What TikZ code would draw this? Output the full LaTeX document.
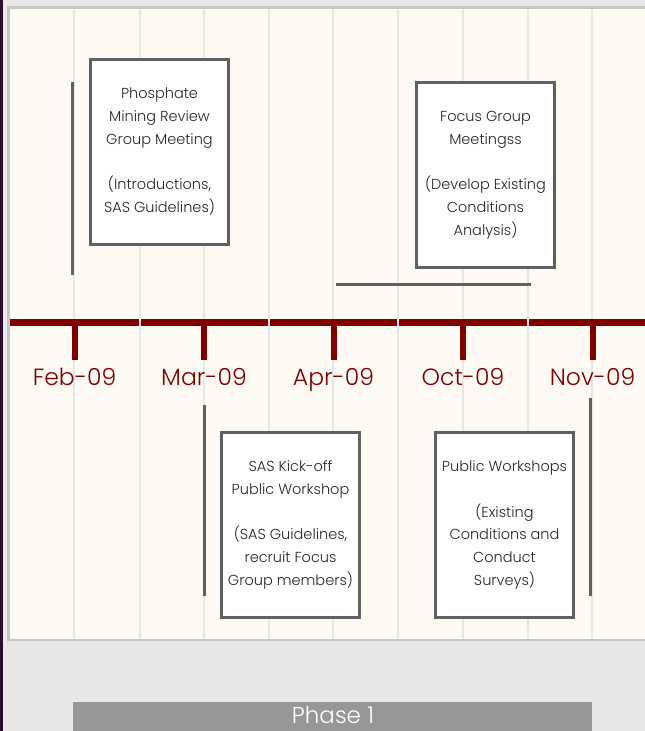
\documentclass[tikz,border=0pt]{standalone}
\usepackage{fontspec}
\setmainfont{Poppins}[UprightFont=* Light]
\definecolor{bggray}{HTML}{E8E8E8}
\definecolor{leftdark}{HTML}{2E0A2E}
\definecolor{cream}{HTML}{FDFAF3}
\definecolor{panelborder}{HTML}{C6C6C6}
\definecolor{gridc}{HTML}{E6E6E6}
\definecolor{timered}{HTML}{800000}
\definecolor{bargray}{HTML}{606060}
\definecolor{phasegray}{HTML}{979797}
\definecolor{txt}{HTML}{262626}
\tikzset{
  evbox/.style={draw=bargray, line width=3pt, fill=white, minimum width=138pt, minimum height=185pt,
    inner sep=0pt, align=center, text=txt, font=\fontsize{14.5}{22.7}\selectfont},
  monthlbl/.style={text=timered, font=\fontsize{23.5}{26}\selectfont, inner sep=0pt, anchor=base},
  gridline/.style={draw=gridc, line width=2pt},
  tickline/.style={draw=timered, line width=6pt},
  barline/.style={draw=bargray, line width=3pt}
}
\begin{document}
\begin{tikzpicture}[x=1pt,y=-1pt]
\useasboundingbox (0,0) rectangle (645,731);
\clip (0,0) rectangle (645,731);
\fill[bggray] (0,0) rectangle (645,731);
\fill[leftdark] (0,0) rectangle (3,731);
\draw[panelborder, line width=2.5pt, fill=cream] (8.25,7.25) rectangle (660,639.75);
% timeline
\coordinate (tlA) at (9.5,322.5);
\coordinate (tlB) at (645,322.5);
\draw[timered, line width=7pt] (tlA) -- (tlB);
% grid
\foreach \x in {74,140,204,269,333,398,463,528,592}
  \draw[gridline] (\x,8.5) -- (\x,638.5);
% ticks and labels
\foreach \x/\lab/\nm in {74.5/Feb-09/m1,204/Mar-09/m2,333.5/Apr-09/m3,463/Oct-09/m4,592.5/Nov-09/m5}{
  \coordinate (\nm t) at (\x,319);
  \coordinate (\nm b) at (\x,360);
  \draw[tickline] (\nm t) -- (\nm b);
  \node[monthlbl] (\nm) at (\x,385) {\lab};
}
% bars
\coordinate (b1a) at (72,82);  \coordinate (b1b) at (72,275);
\coordinate (b2a) at (336,284); \coordinate (b2b) at (531,284);
\coordinate (b3a) at (204,405); \coordinate (b3b) at (204,596);
\coordinate (b4a) at (590,398); \coordinate (b4b) at (590,596);
\draw[barline] (b1a) -- (b1b);
\draw[barline] (b2a) -- (b2b);
\draw[barline] (b3a) -- (b3b);
\draw[barline] (b4a) -- (b4b);
% boxes
\node[evbox] (e1) at (159.5,151.5) {Phosphate\\Mining Review\\Group Meeting\\~\\(Introductions,\\SAS Guidelines)};
\node[evbox] (e2) at (485.5,175) {Focus Group\\Meetingss\\~\\(Develop Existing\\Conditions\\Analysis)};
\node[evbox] (e3) at (290.5,525) {SAS Kick-off\\Public Workshop\\~\\(SAS Guidelines,\\recruit Focus\\Group members)};
\node[evbox] (e4) at (504.5,525) {Public Workshops\\~\\(Existing\\Conditions and\\Conduct\\Surveys)};
% phase bar
\fill[phasegray] (73,702) rectangle (592,740);
\node[text=white, font=\fontsize{23}{26}\selectfont, inner sep=0pt, anchor=base] (ph) at (333,723) {Phase 1};
\end{tikzpicture}
\end{document}
